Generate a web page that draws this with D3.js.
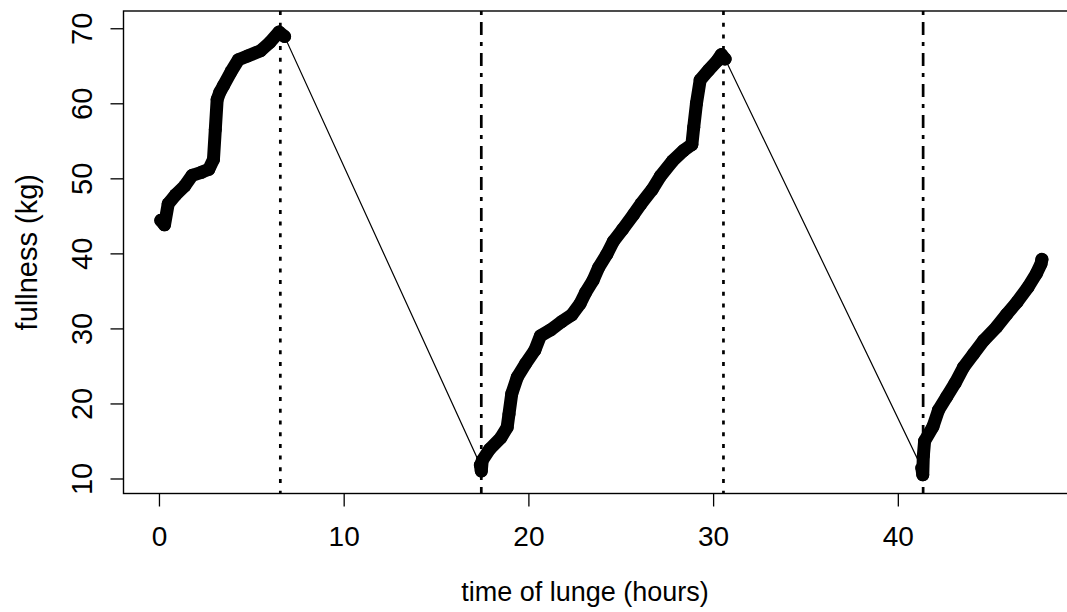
<!DOCTYPE html>
<html>
<head>
<meta charset="utf-8">
<script src="https://cdn.jsdelivr.net/npm/d3@7"></script>
<style>
  body { margin: 0; background: #fff; }
  text { font-family: "Liberation Sans", Arial, sans-serif; }
</style>
</head>
<body>
<svg id="mySvg"></svg>
<script>
// three feeding bouts: time of lunge (hours) and stomach fullness (kg)
const bout1Time = [0.1, 0.3, 0.5, 0.9, 1.4, 1.8, 2.3, 2.7, 2.95, 3.05, 3.15, 3.3, 3.5, 3.9, 4.3, 4.8, 5.5, 6.0, 6.5, 6.8];
const bout1Full = [44.4, 43.8, 46.6, 47.8, 49.0, 50.4, 50.8, 51.2, 52.5, 56.5, 60.5, 61.5, 62.4, 64.2, 65.8, 66.3, 67.0, 68.1, 69.5, 68.9];

const bout2Time = [17.4, 17.45, 17.5, 17.9, 18.5, 18.85, 18.95, 19.1, 19.4, 19.85, 20.35, 20.65, 21.2, 21.8, 22.35, 22.8, 23.1, 23.5, 23.8, 24.25, 24.6, 25.1, 25.7, 26.1, 26.7, 27.15, 27.8, 28.4, 28.85, 28.95, 29.1, 29.3, 29.75, 30.2, 30.45, 30.65];
const bout2Full = [11.8, 11.0, 12.4, 13.9, 15.4, 16.8, 18.6, 21.3, 23.5, 25.3, 27.1, 29.0, 29.8, 30.9, 31.8, 33.3, 34.8, 36.4, 38.1, 39.9, 41.6, 43.2, 45.2, 46.6, 48.5, 50.3, 52.3, 53.7, 54.5, 56.8, 60.0, 63.1, 64.4, 65.6, 66.5, 65.9];

const bout3Time = [41.3, 41.35, 41.38, 41.45, 41.9, 42.2, 42.65, 43.1, 43.55, 44.1, 44.65, 45.35, 45.9, 46.45, 47.05, 47.5, 47.75, 47.8];
const bout3Full = [11.4, 10.5, 13.0, 15.0, 16.9, 19.1, 20.9, 22.7, 24.8, 26.6, 28.4, 30.2, 31.9, 33.5, 35.5, 37.3, 38.6, 39.2];

// vertical reference lines (start / end of bouts)
const markTimes = [6.57, 17.45, 30.56, 41.37];
const markTypes = ["dotted", "dotdash", "dotted", "dotdash"];

const xTicks = [0, 10, 20, 30, 40];
const yTicks = [10, 20, 30, 40, 50, 60, 70];

const W = 1067, H = 612;
const box = {left: 123.5, right: 1077, top: 11, bottom: 493.5};

const svg = d3.select("#mySvg").attr("width", W).attr("height", H);

const x = d3.scaleLinear().domain([-1.92, 49.7]).range([box.left, box.right]);
const y = d3.scaleLinear().domain([8.0, 72.3]).range([box.bottom, box.top]);

const bouts = [
  d3.zip(bout1Time, bout1Full),
  d3.zip(bout2Time, bout2Full),
  d3.zip(bout3Time, bout3Full)
];
const all = bouts.flat();

const line = d3.line().x(d => x(d[0])).y(d => y(d[1]));

// reference lines
const dash = {dotted: "4,7.7", dotdash: "4,7,13,7"};
svg.selectAll(".mark")
  .data(markTimes)
  .join("line")
  .attr("x1", d => x(d)).attr("x2", d => x(d))
  .attr("y1", box.top).attr("y2", box.bottom)
  .attr("stroke", "#000")
  .attr("stroke-width", 2.7)
  .attr("stroke-dasharray", (d, i) => dash[markTypes[i]]);

// thin line through the whole series
svg.append("path")
  .datum(all)
  .attr("fill", "none")
  .attr("stroke", "#000")
  .attr("stroke-width", 1.2)
  .attr("d", line);

// heavy point trail of each bout
bouts.forEach(b => {
  svg.append("path")
    .datum(b)
    .attr("fill", "none")
    .attr("stroke", "#000")
    .attr("stroke-width", 13)
    .attr("stroke-linejoin", "round")
    .attr("stroke-linecap", "round")
    .attr("d", line);
  svg.append("g").selectAll("circle")
    .data(b)
    .join("circle")
    .attr("cx", d => x(d[0]))
    .attr("cy", d => y(d[1]))
    .attr("r", 6.5)
    .attr("fill", "#000");
});

// box
svg.append("rect")
  .attr("x", box.left).attr("y", box.top)
  .attr("width", box.right - box.left).attr("height", box.bottom - box.top)
  .attr("fill", "none").attr("stroke", "#000").attr("stroke-width", 1.4);

// axes
const xAxis = svg.append("g")
  .attr("transform", `translate(0,${box.bottom})`)
  .call(d3.axisBottom(x).tickValues(xTicks).tickSize(13).tickSizeOuter(0));
xAxis.select(".domain").remove();
xAxis.selectAll("line").attr("stroke-width", 1.3);
xAxis.selectAll("text")
  .attr("dy", null).attr("y", 52)
  .attr("font-size", 28).attr("font-family", "Liberation Sans, Arial, sans-serif").attr("fill", "#000");

const yAxis = svg.append("g")
  .attr("transform", `translate(${box.left},0)`)
  .call(d3.axisLeft(y).tickValues(yTicks).tickSize(13).tickSizeOuter(0));
yAxis.select(".domain").remove();
yAxis.selectAll("line").attr("stroke-width", 1.3);
yAxis.selectAll("text")
  .attr("x", null).attr("dy", null)
  .attr("text-anchor", "middle")
  .attr("transform", "translate(-32,0) rotate(-90)")
  .attr("font-size", 29).attr("font-family", "Liberation Sans, Arial, sans-serif").attr("fill", "#000");

// titles
svg.append("text")
  .attr("x", 585).attr("y", 601)
  .attr("text-anchor", "middle").attr("font-size", 27)
  .text("time of lunge (hours)");

svg.append("text")
  .attr("transform", `translate(37,${(box.top + box.bottom) / 2}) rotate(-90)`)
  .attr("text-anchor", "middle").attr("font-size", 29)
  .text("fullness (kg)");
</script>
</body>
</html>
